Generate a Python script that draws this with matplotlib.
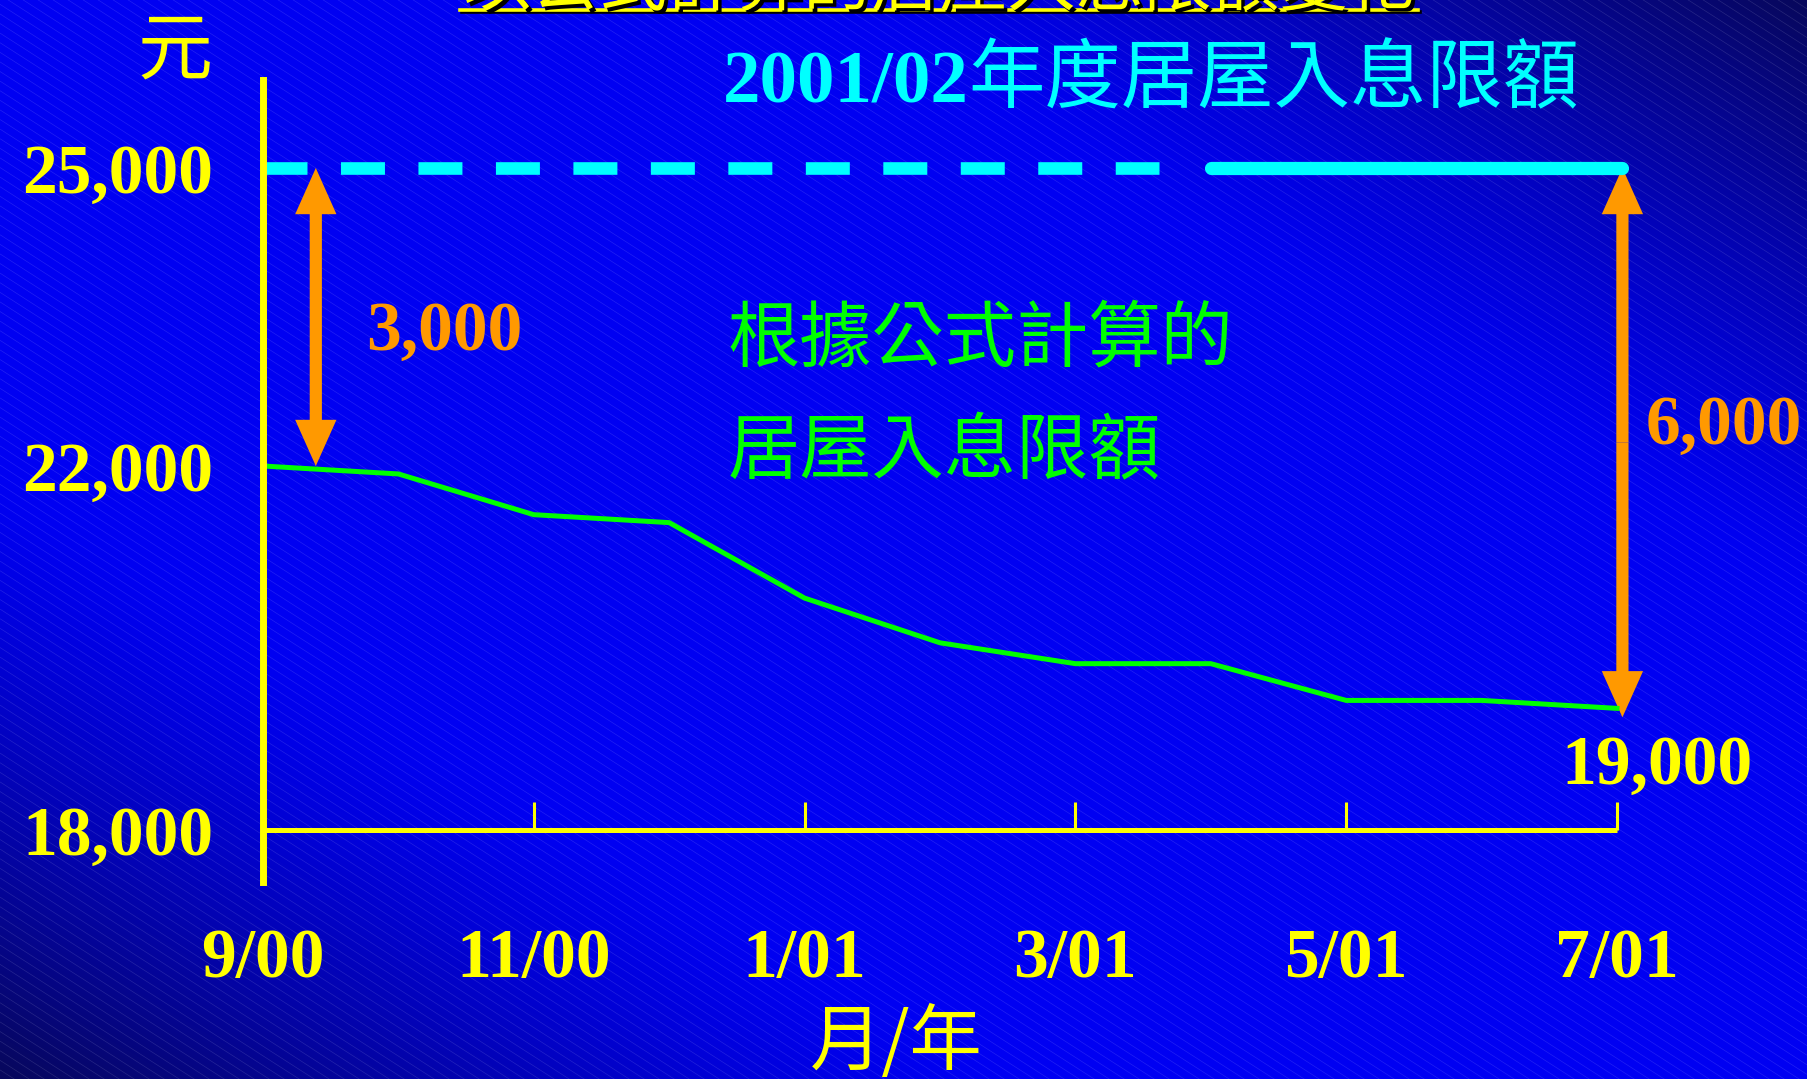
import matplotlib.pyplot as plt
import matplotlib.patheffects as pe
from matplotlib.collections import LineCollection
from matplotlib.lines import Line2D
import numpy as np

# monthly formula limit, 9/00 .. 7/01
months = ['9/00', '10/00', '11/00', '12/00', '1/01', '2/01', '3/01', '4/01', '5/01', '6/01', '7/01']
formula_limit = [22000, 21920, 21510, 21430, 20670, 20220, 20010, 20010, 19640, 19640, 19560]
limit_0102 = 25000
fy_start = 7          # 4/01, start of 2001/02
tick_pos = [0, 2, 4, 6, 8, 10]
tick_labels = ['9/00', '11/00', '1/01', '3/01', '5/01', '7/01']
base = 18335          # axis base, drawn as 18,000
ytick_values = [base, 22000, 25000]
ytick_labels = ['18,000', '22,000', '25,000']
gap_left = [22000, 25000]
gap_right = [19470, 25000]

yellow = '#ffff00'
orange = '#ff9900'
green = '#00ff00'
cyan = '#00ffff'
cjk = ['Noto Sans CJK TC', 'DejaVu Sans']
num = {'family': 'Liberation Serif', 'weight': 'bold', 'size': 50}

W, H = 1807, 1079
fig = plt.figure(figsize=(W / 100, H / 100), dpi=100)

# background: blue gradient with thin diagonal lines
bg = fig.add_axes([0, 0, 1, 1])
xx, yy = np.meshgrid(np.linspace(0, 1, 400), np.linspace(0, 1, 240))
t = np.clip((np.abs(xx - yy) - 0.45) / 0.55, 0, 1) ** 1.3
img = np.zeros(xx.shape + (3,))
img[..., 0] = 0.03 * t
img[..., 1] = 0.03 * t
img[..., 2] = (242 - 150 * t) / 255
bg.imshow(img, extent=[0, W, H, 0], aspect='auto', interpolation='bilinear')
c = np.arange(-0.64 * W - 20, H + 20, 9.6)
segs = [[(0, ci), (W, ci + 0.64 * W)] for ci in c]
bg.add_collection(LineCollection(segs, colors=[(1, 1, 1, 0.13)], linewidths=0.5))
bg.set_xlim(0, W)
bg.set_ylim(H, 0)
bg.axis('off')

ax = fig.add_axes([263 / W, 1 - 882 / H, (1617 - 263) / W, (882 - 80) / H])
ax.patch.set_alpha(0)
ax.set_xlim(0, 10)
ax.set_ylim(17812, 25886)
for s in ['top', 'right', 'bottom']:
    ax.spines[s].set_visible(False)
ax.spines['left'].set_color(yellow)
ax.spines['left'].set_linewidth(5)

# x axis line + ticks
ax.plot([0, 10], [base, base], color=yellow, lw=3.6, solid_capstyle='butt', clip_on=False)
ax.vlines(tick_pos[1:], base, base + 282, colors=yellow, lw=2.2, clip_on=False)

ax.set_xticks(tick_pos, tick_labels, fontdict=num, color=yellow)
ax.tick_params(axis='x', length=0, pad=33)
ax.set_yticks(ytick_values, ytick_labels, fontdict=num, color=yellow)
ax.tick_params(axis='y', length=0, pad=36)

# 2001/02 limit
ax.plot([0, fy_start - 0.38], [limit_0102] * 2, color=cyan, lw=9.1,
        dashes=(3.48, 2.65), dash_capstyle='butt')
ax.plot([fy_start, 10.04], [limit_0102] * 2, color=cyan, lw=9.5,
        solid_capstyle='round', clip_on=False)

ax.plot(range(len(months)), formula_limit, color=green, lw=3.6, clip_on=False)


def double_arrow(x, lo, hi):
    mid = (lo + hi) / 2
    for end in (lo, hi):
        ax.arrow(x, mid, 0, end - mid, width=0.09, head_width=0.305, head_length=465,
                 length_includes_head=True, color=orange, lw=0, clip_on=False)


double_arrow(0.39, gap_left[0], gap_left[1])
double_arrow(10.04, gap_right[0], gap_right[1])

ax.text(0.76, 23340, '3,000', fontdict=num, color=orange, ha='left', va='center')
ax.text(10.21, 22395, '6,000', fontdict=num, color=orange, ha='left', va='center')
ax.text(9.59, 18972, '19,000', fontdict=num, color=yellow, ha='left', va='center')

ax.text(5.21, 25664, '2001/02', fontdict={**num, 'size': 54}, color=cyan,
        ha='right', va='baseline')
ax.text(5.21, 25664, '年度居屋入息限額', family=cjk, fontsize=55, color=cyan,
        ha='left', va='baseline')

ax.text(3.43, 23270, '根據公式計算的', family=cjk, fontsize=52, color=green,
        ha='left', va='center')
ax.text(3.43, 22133, '居屋入息限額', family=cjk, fontsize=52, color=green,
        ha='left', va='center')

ax.text(-0.65, 26168, '元', family=cjk, fontsize=54, color=yellow, ha='center', va='center')
ax.text(4.68, 16190, '月/年', family=cjk, fontsize=52, color=yellow, ha='center', va='center')

# title, cut off at the top
fig.text(939 / W, 1 - 5 / H, '以公式計算的居屋入息限額變化', family=cjk, fontsize=49,
         color=yellow, ha='center', va='baseline',
         path_effects=[pe.SimplePatchShadow(offset=(2.5, -2.5), shadow_rgbFace='k', alpha=1),
                       pe.Normal()])
fig.add_artist(Line2D([462 / W, 1420 / W], [1 - 12 / H] * 2, color='k', lw=2.6,
                      transform=fig.transFigure))
fig.add_artist(Line2D([460 / W, 1418 / W], [1 - 10 / H] * 2, color=yellow, lw=2.6,
                      transform=fig.transFigure))

fig.savefig('out.png', dpi=100)
